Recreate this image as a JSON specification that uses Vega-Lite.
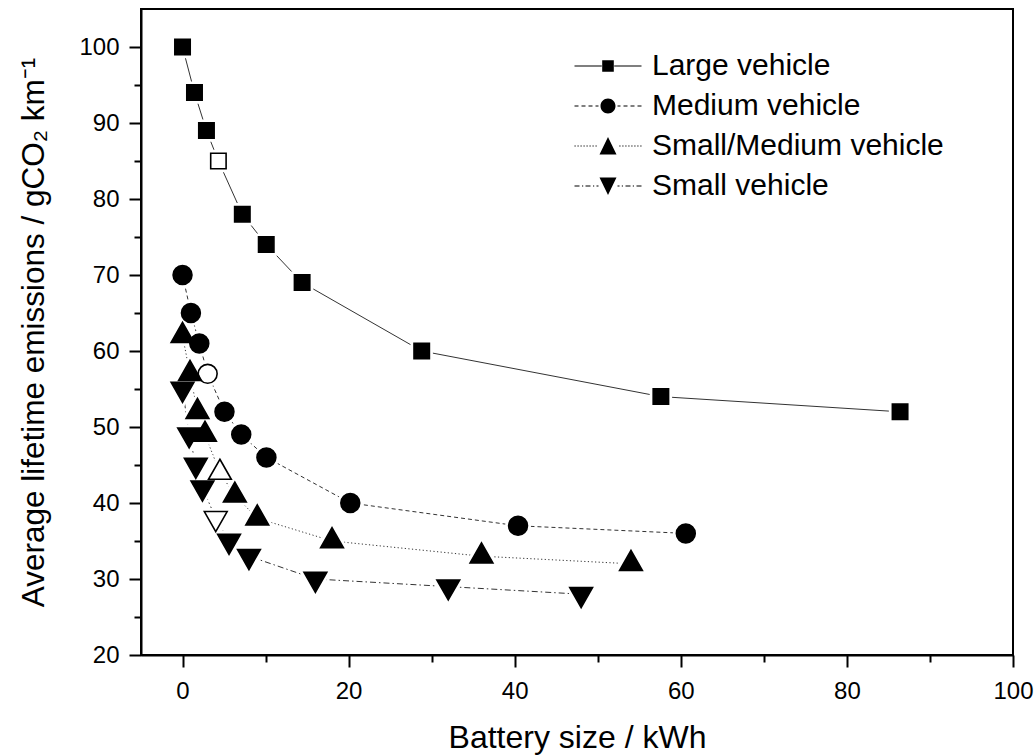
{
  "$schema": "https://vega.github.io/schema/vega-lite/v6.json",
  "width": 872,
  "height": 646,
  "autosize": {"type": "none"},
  "padding": {"left": 141, "top": 9, "right": 23, "bottom": 100},
  "background": "white",
  "data": {
    "values": [
      {"vehicle": "Large vehicle", "battery": 0, "emissions": 100, "hollow": false},
      {"vehicle": "Large vehicle", "battery": 1.44, "emissions": 94, "hollow": false},
      {"vehicle": "Large vehicle", "battery": 2.88, "emissions": 89, "hollow": false},
      {"vehicle": "Large vehicle", "battery": 4.32, "emissions": 85, "hollow": true},
      {"vehicle": "Large vehicle", "battery": 7.2, "emissions": 78, "hollow": false},
      {"vehicle": "Large vehicle", "battery": 10.08, "emissions": 74, "hollow": false},
      {"vehicle": "Large vehicle", "battery": 14.4, "emissions": 69, "hollow": false},
      {"vehicle": "Large vehicle", "battery": 28.8, "emissions": 60, "hollow": false},
      {"vehicle": "Large vehicle", "battery": 57.6, "emissions": 54, "hollow": false},
      {"vehicle": "Large vehicle", "battery": 86.4, "emissions": 52, "hollow": false},
      {"vehicle": "Medium vehicle", "battery": 0, "emissions": 70, "hollow": false},
      {"vehicle": "Medium vehicle", "battery": 1.01, "emissions": 65, "hollow": false},
      {"vehicle": "Medium vehicle", "battery": 2.02, "emissions": 61, "hollow": false},
      {"vehicle": "Medium vehicle", "battery": 3.03, "emissions": 57, "hollow": true},
      {"vehicle": "Medium vehicle", "battery": 5.05, "emissions": 52, "hollow": false},
      {"vehicle": "Medium vehicle", "battery": 7.07, "emissions": 49, "hollow": false},
      {"vehicle": "Medium vehicle", "battery": 10.1, "emissions": 46, "hollow": false},
      {"vehicle": "Medium vehicle", "battery": 20.2, "emissions": 40, "hollow": false},
      {"vehicle": "Medium vehicle", "battery": 40.4, "emissions": 37, "hollow": false},
      {"vehicle": "Medium vehicle", "battery": 60.6, "emissions": 36, "hollow": false},
      {"vehicle": "Small/Medium vehicle", "battery": 0, "emissions": 62, "hollow": false},
      {"vehicle": "Small/Medium vehicle", "battery": 0.9, "emissions": 57, "hollow": false},
      {"vehicle": "Small/Medium vehicle", "battery": 1.8, "emissions": 52, "hollow": false},
      {"vehicle": "Small/Medium vehicle", "battery": 2.7, "emissions": 49, "hollow": false},
      {"vehicle": "Small/Medium vehicle", "battery": 4.5, "emissions": 44, "hollow": true},
      {"vehicle": "Small/Medium vehicle", "battery": 6.3, "emissions": 41, "hollow": false},
      {"vehicle": "Small/Medium vehicle", "battery": 9, "emissions": 38, "hollow": false},
      {"vehicle": "Small/Medium vehicle", "battery": 18, "emissions": 35, "hollow": false},
      {"vehicle": "Small/Medium vehicle", "battery": 36, "emissions": 33, "hollow": false},
      {"vehicle": "Small/Medium vehicle", "battery": 54, "emissions": 32, "hollow": false},
      {"vehicle": "Small vehicle", "battery": 0, "emissions": 55, "hollow": false},
      {"vehicle": "Small vehicle", "battery": 0.8, "emissions": 49, "hollow": false},
      {"vehicle": "Small vehicle", "battery": 1.6, "emissions": 45, "hollow": false},
      {"vehicle": "Small vehicle", "battery": 2.4, "emissions": 42, "hollow": false},
      {"vehicle": "Small vehicle", "battery": 4, "emissions": 38, "hollow": true},
      {"vehicle": "Small vehicle", "battery": 5.6, "emissions": 35, "hollow": false},
      {"vehicle": "Small vehicle", "battery": 8, "emissions": 33, "hollow": false},
      {"vehicle": "Small vehicle", "battery": 16, "emissions": 30, "hollow": false},
      {"vehicle": "Small vehicle", "battery": 32, "emissions": 29, "hollow": false},
      {"vehicle": "Small vehicle", "battery": 48, "emissions": 28, "hollow": false}
    ]
  },
  "encoding": {
    "x": {
      "field": "battery",
      "type": "quantitative",
      "scale": {"domain": [-5, 100], "nice": false, "zero": false},
      "axis": {
        "title": "Battery size / kWh",
        "values": [0, 10, 20, 30, 40, 50, 60, 70, 80, 90, 100],
        "labelExpr": "datum.value % 20 === 0 ? datum.label : ''",
        "tickSize": {"condition": {"test": "datum.value % 20 === 0", "value": 12}, "value": 7},
        "labelPadding": 12,
        "labelFlush": false,
        "labelOverlap": false,
        "titleY": 92,
        "titleBaseline": "alphabetic",
        "titleFontSize": 32
      }
    },
    "y": {
      "field": "emissions",
      "type": "quantitative",
      "scale": {"domain": [20, 105], "nice": false, "zero": false},
      "axis": {
        "title": "Average lifetime emissions / gCO₂ km⁻¹",
        "values": [20, 25, 30, 35, 40, 45, 50, 55, 60, 65, 70, 75, 80, 85, 90, 95, 100],
        "labelExpr": "datum.value % 10 === 0 ? datum.label : ''",
        "tickSize": {"condition": {"test": "datum.value % 10 === 0", "value": 12}, "value": 7},
        "labelPadding": 10,
        "labelOverlap": false,
        "titleX": -98,
        "titleY": 323,
        "titleAngle": 270,
        "titleAlign": "center",
        "titleBaseline": "alphabetic",
        "titleFontSize": 31.5
      }
    }
  },
  "layer": [
    {
      "transform": [{"filter": "datum.vehicle === 'Large vehicle'"}],
      "mark": {"type": "line", "color": "#333333", "strokeWidth": 1},
      "encoding": {}
    },
    {
      "transform": [{"filter": "datum.vehicle === 'Medium vehicle'"}],
      "mark": {"type": "line", "color": "#333333", "strokeWidth": 1, "strokeDash": [4, 3]},
      "encoding": {}
    },
    {
      "transform": [{"filter": "datum.vehicle === 'Small/Medium vehicle'"}],
      "mark": {"type": "line", "color": "#333333", "strokeWidth": 1, "strokeDash": [1.2, 2.4]},
      "encoding": {}
    },
    {
      "transform": [{"filter": "datum.vehicle === 'Small vehicle'"}],
      "mark": {"type": "line", "color": "#333333", "strokeWidth": 1, "strokeDash": [6, 3, 1.5, 3]},
      "encoding": {}
    },
    {
      "mark": {"type": "point", "filled": true, "fill": "white", "stroke": "white", "strokeWidth": 7, "opacity": 1, "size": 100},
      "encoding": {
        "shape": {
          "field": "vehicle",
          "type": "nominal",
          "scale": {
            "domain": ["Large vehicle", "Medium vehicle", "Small/Medium vehicle", "Small vehicle"],
            "range": [
              "M-1.54,-1.54H1.54V1.54H-1.54Z",
              "M-1.89,0A1.89,1.89,0,1,0,1.89,0A1.89,1.89,0,1,0,-1.89,0Z",
              "M0,-2.67L2.28,1.33L-2.28,1.33Z",
              "M0,2.67L2.28,-1.33L-2.28,-1.33Z"
            ]
          },
          "legend": null
        }
      }
    },
    {
      "mark": {"type": "point", "filled": true, "stroke": "black", "strokeWidth": 1.6, "opacity": 1, "size": 100},
      "encoding": {
        "fill": {"condition": {"test": "datum.hollow", "value": "white"}, "value": "black"},
        "shape": {
          "field": "vehicle",
          "type": "nominal",
          "scale": {
            "domain": ["Large vehicle", "Medium vehicle", "Small/Medium vehicle", "Small vehicle"],
            "range": [
              "M-1.54,-1.54H1.54V1.54H-1.54Z",
              "M-1.89,0A1.89,1.89,0,1,0,1.89,0A1.89,1.89,0,1,0,-1.89,0Z",
              "M0,-2.67L2.28,1.33L-2.28,1.33Z",
              "M0,2.67L2.28,-1.33L-2.28,-1.33Z"
            ]
          },
          "legend": null
        }
      }
    },
    {
      "mark": {"type": "point", "filled": true, "fill": "black", "stroke": "black", "strokeWidth": 1, "opacity": 0, "size": 400},
      "encoding": {
        "shape": {
          "field": "vehicle",
          "type": "nominal",
          "scale": {
            "domain": ["Large vehicle", "Medium vehicle", "Small/Medium vehicle", "Small vehicle"],
            "range": [
              "M-3.35,-0.05H-0.62V0.05H-3.35ZM0.62,-0.05H3.35V0.05H0.62ZM-0.58,-0.58H0.58V0.58H-0.58Z",
              "M-3.35,-0.05H-2.95V0.05H-3.35ZM-2.65,-0.05H-2.25V0.05H-2.65ZM-1.95,-0.05H-1.55V0.05H-1.95ZM-1.25,-0.05H-0.95V0.05H-1.25ZM0.95,-0.05H1.25V0.05H0.95ZM1.55,-0.05H1.95V0.05H1.55ZM2.25,-0.05H2.65V0.05H2.25ZM2.95,-0.05H3.35V0.05H2.95ZM-0.75,0A0.75,0.75,0,1,0,0.75,0A0.75,0.75,0,1,0,-0.75,0Z",
              "M-3.35,-0.05H-3.23V0.05H-3.35ZM-3.05,-0.05H-2.93V0.05H-3.05ZM-2.75,-0.05H-2.63V0.05H-2.75ZM-2.45,-0.05H-2.33V0.05H-2.45ZM-2.15,-0.05H-2.03V0.05H-2.15ZM-1.85,-0.05H-1.73V0.05H-1.85ZM-1.55,-0.05H-1.43V0.05H-1.55ZM-1.25,-0.05H-1.13V0.05H-1.25ZM1.13,-0.05H1.25V0.05H1.13ZM1.43,-0.05H1.55V0.05H1.43ZM1.73,-0.05H1.85V0.05H1.73ZM2.03,-0.05H2.15V0.05H2.03ZM2.33,-0.05H2.45V0.05H2.33ZM2.63,-0.05H2.75V0.05H2.63ZM2.93,-0.05H3.05V0.05H2.93ZM3.23,-0.05H3.35V0.05H3.23ZM0,-0.9L0.85,0.85L-0.85,0.85Z",
              "M-3.35,-0.05H-2.85V0.05H-3.35ZM-2.6,-0.05H-2.48V0.05H-2.6ZM-2.25,-0.05H-1.75V0.05H-2.25ZM-1.5,-0.05H-1.38V0.05H-1.5ZM-1.15,-0.05H-0.95V0.05H-1.15ZM0.95,-0.05H1.15V0.05H0.95ZM1.38,-0.05H1.5V0.05H1.38ZM1.75,-0.05H2.25V0.05H1.75ZM2.48,-0.05H2.6V0.05H2.48ZM2.85,-0.05H3.35V0.05H2.85ZM0,0.9L0.85,-0.85L-0.85,-0.85Z"
            ]
          },
          "legend": {
            "title": null,
            "orient": "none",
            "legendX": 452,
            "legendY": 42,
            "padding": 0,
            "symbolSize": 400,
            "symbolOpacity": 1,
            "symbolFillColor": "black",
            "symbolStrokeColor": "black",
            "symbolStrokeWidth": 1,
            "labelFontSize": 30,
            "labelFont": "Liberation Sans",
            "labelColor": "black",
            "labelOffset": 29,
            "rowPadding": 10,
            "labelLimit": 500
          }
        }
      }
    }
  ],
  "resolve": {"scale": {"shape": "independent"}},
  "config": {
    "font": "Liberation Sans",
    "view": {"stroke": "black", "strokeWidth": 2},
    "axis": {
      "grid": false,
      "domainColor": "black",
      "domainWidth": 2,
      "tickColor": "black",
      "tickWidth": 2,
      "labelFont": "Liberation Sans",
      "labelFontSize": 24,
      "labelColor": "black",
      "titleFont": "Liberation Sans",
      "titleFontWeight": "normal",
      "titleColor": "black"
    }
  }
}
